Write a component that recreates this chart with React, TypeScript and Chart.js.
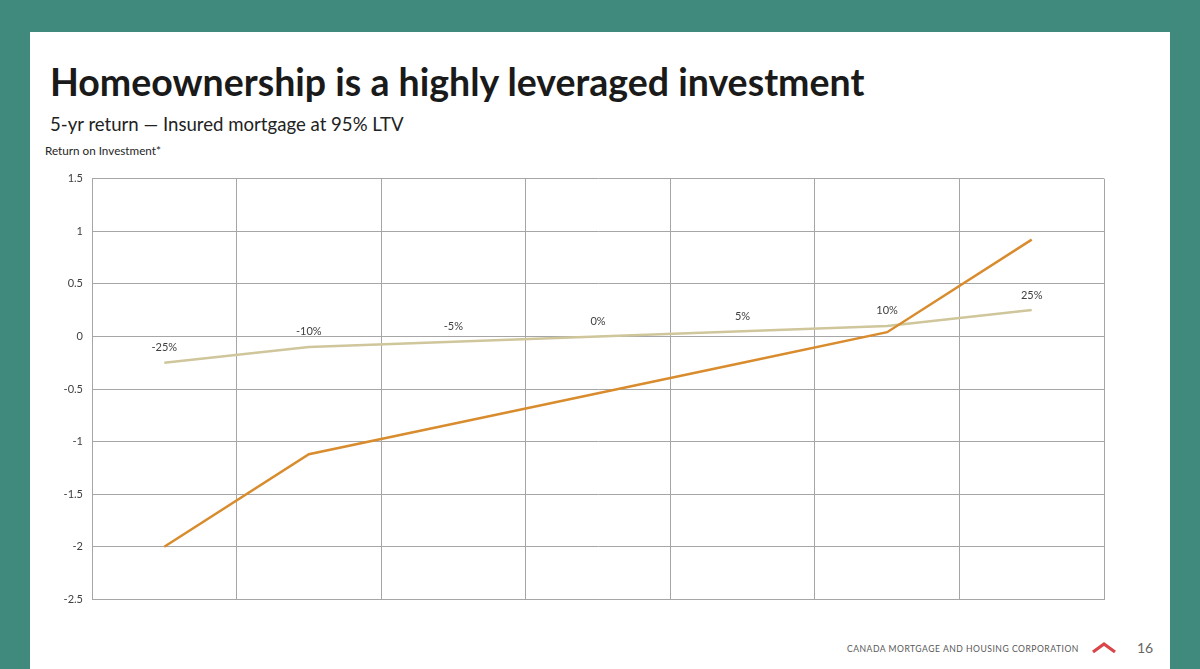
import React, { useEffect, useRef } from "react";
import { Chart, registerables } from "chart.js";

Chart.register(...registerables);

const categories = ["-25%", "-10%", "-5%", "0%", "5%", "10%", "25%"];
const leveragedReturn = [-2.0, -1.12, -0.83, -0.54, -0.25, 0.04, 0.92];
const housePriceChange = [-0.25, -0.1, -0.05, 0, 0.05, 0.1, 0.25];
const yMin = -2.5;
const yMax = 1.5;
const yStep = 0.5;

const TEAL = "#3f8a7c";
const ORANGE = "#d98c2e";
const BEIGE = "#cfc69b";
const GRID = "#a6a6a6";
const FONT = "Lato, 'Open Sans', sans-serif";

const pointLabels = {
  id: "pointLabels",
  afterDatasetsDraw(chart: any) {
    const meta = chart.getDatasetMeta(1);
    const ctx = chart.ctx;
    ctx.save();
    ctx.font = "11px " + FONT;
    ctx.fillStyle = "#404040";
    ctx.textAlign = "center";
    ctx.textBaseline = "middle";
    meta.data.forEach((pt: any, i: number) => {
      ctx.fillText(categories[i], pt.x, pt.y - 15);
    });
    ctx.restore();
  },
};

function LineChart() {
  const ref = useRef<HTMLCanvasElement | null>(null);
  useEffect(() => {
    if (!ref.current) return;
    const chart = new Chart(ref.current, {
      type: "line",
      data: {
        labels: categories,
        datasets: [
          {
            label: "Return on investment",
            data: leveragedReturn,
            borderColor: ORANGE,
            borderWidth: 2.5,
            pointRadius: 0,
            tension: 0,
            fill: false,
          },
          {
            label: "House price change",
            data: housePriceChange,
            borderColor: BEIGE,
            borderWidth: 2.5,
            pointRadius: 0,
            tension: 0,
            fill: false,
          },
        ],
      },
      options: {
        animation: false,
        responsive: false,
        maintainAspectRatio: false,
        layout: { padding: { top: 8, bottom: 11, right: 16, left: 0 } },
        plugins: {
          legend: { display: false },
          tooltip: { enabled: false },
          title: { display: false },
        },
        scales: {
          x: {
            type: "category",
            offset: true,
            grid: { display: true, offset: true, color: GRID, lineWidth: 1, drawTicks: false },
            border: { display: true, color: GRID },
            ticks: { display: false },
            afterFit: (s: any) => {
              s.height = 0;
            },
          },
          y: {
            min: yMin,
            max: yMax,
            grid: { color: GRID, lineWidth: 1, drawTicks: false },
            border: { display: true, color: GRID },
            ticks: {
              stepSize: yStep,
              padding: 9,
              color: "#404040",
              font: { family: FONT, size: 11 },
              callback: (v: any) => String(Math.round(Number(v) * 10) / 10),
            },
            afterFit: (s: any) => {
              s.width = 52;
            },
          },
        },
      },
      plugins: [pointLabels],
    });
    return () => chart.destroy();
  }, []);
  return (
    <canvas
      ref={ref}
      width={1080}
      height={452}
      style={{ position: "absolute", left: 40, top: 163, width: 1080, height: 452 }}
    />
  );
}

export default function App() {
  return (
    <div
      style={{
        position: "fixed",
        left: 0,
        top: 0,
        width: 1200,
        height: 669,
        background: TEAL,
        overflow: "hidden",
        fontFamily: FONT,
      }}
    >
      <div
        style={{ position: "absolute", left: 30, top: 32, width: 1140, height: 650, background: "#ffffff" }}
      />
      <div
        style={{
          position: "absolute",
          left: 50,
          top: 62.7,
          fontSize: 37.5,
          lineHeight: "37.5px",
          fontWeight: 700,
          color: "#1a1a1a",
          whiteSpace: "nowrap",
        }}
      >
        Homeownership is a highly leveraged investment
      </div>
      <div
        style={{
          position: "absolute",
          left: 50,
          top: 114.5,
          fontSize: 18.6,
          lineHeight: "18.6px",
          color: "#222222",
          whiteSpace: "nowrap",
        }}
      >
        5-yr return — Insured mortgage at 95% LTV
      </div>
      <div
        style={{
          position: "absolute",
          left: 45,
          top: 145,
          fontSize: 11.7,
          lineHeight: "11.7px",
          color: "#262626",
          whiteSpace: "nowrap",
        }}
      >
        Return on Investment*
      </div>
      <LineChart />
      <div
        style={{
          position: "absolute",
          left: 847,
          top: 644.5,
          fontSize: 8.6,
          lineHeight: "8.6px",
          letterSpacing: "0.5px",
          color: "#595959",
          whiteSpace: "nowrap",
        }}
      >
        CANADA MORTGAGE AND HOUSING CORPORATION
      </div>
      <svg
        style={{ position: "absolute", left: 1090, top: 640, width: 28, height: 16 }}
        width={28}
        height={16}
        viewBox="0 0 28 16"
      >
        <polyline points="3,12 14,4 25,12" fill="none" stroke="#d9464a" strokeWidth={3.2} />
      </svg>
      <div
        style={{
          position: "absolute",
          left: 1137,
          top: 641,
          fontSize: 14,
          lineHeight: "14px",
          color: "#666666",
          whiteSpace: "nowrap",
        }}
      >
        16
      </div>
    </div>
  );
}
